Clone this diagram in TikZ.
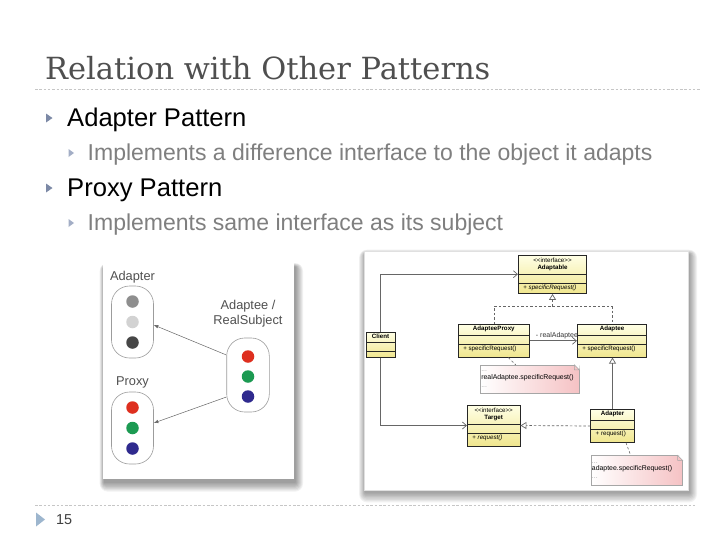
\documentclass[tikz,border=0pt]{standalone}
\usepackage{fontspec}
\setmainfont{Liberation Sans}
\newfontfamily\titlefont{DejaVu Serif}
\usepackage{xcolor}
\usepackage{tikz}
\usetikzlibrary{calc,arrows.meta,shapes.multipart,positioning}
\definecolor{bg}{HTML}{FFFFFF}
\definecolor{titletext}{HTML}{4F4F4F}
\definecolor{subtext}{HTML}{7F7F7F}
\definecolor{bullet}{HTML}{7C89A6}
\definecolor{bulletlight}{HTML}{A3AEC6}
\definecolor{footbullet}{HTML}{9DB6CE}
\definecolor{rulegray}{HTML}{C6C6C6}
\definecolor{pillgray}{HTML}{9C9C9C}
\definecolor{captext}{HTML}{505050}
\definecolor{dotred}{HTML}{DE2F1F}
\definecolor{dotgreen}{HTML}{1C9A52}
\definecolor{dotblue}{HTML}{2F2A8E}
\definecolor{dotmid}{HTML}{8E8E8E}
\definecolor{dotlight}{HTML}{D2D2D2}
\definecolor{dotdark}{HTML}{464646}
\definecolor{clstop}{HTML}{FFFFE6}
\definecolor{clsbot}{HTML}{F0E68E}
\definecolor{notepink}{HTML}{F5C2C4}
\definecolor{umlline}{HTML}{666666}
\tikzset{
  heading/.style={text=titletext, font=\titlefont\fontsize{30.5}{36}\selectfont, anchor=base west, inner sep=0pt},
  lvlone/.style={text=black, font=\fontsize{25.6}{30}\selectfont, anchor=base west, inner sep=0pt},
  lvltwo/.style={text=subtext, font=\fontsize{23}{28}\selectfont, anchor=base west, inner sep=0pt},
  dashrule/.style={draw=rulegray, line width=0.9pt, dash pattern=on 2.5pt off 1.8pt},
  pill/.style={draw=pillgray, line width=0.6pt, rounded corners=18pt, minimum width=42pt, fill=white, inner sep=0pt},
  dot/.style={circle, inner sep=0pt, minimum size=12.5pt},
  caplab/.style={text=captext, font=\fontsize{12.8}{15}\selectfont, align=center, inner sep=0pt},
  feed/.style={draw=black!60, line width=0.5pt, -{Latex[length=4.5pt,width=3.5pt]}},
  cls/.style={rectangle split, rectangle split parts=3, draw=black!85, line width=0.8pt,
    top color=clstop, bottom color=clsbot, font=\fontsize{6.2}{7.8}\selectfont,
    inner xsep=2pt, inner ysep=1.4pt, rectangle split part align={center,left,left}},
  note/.style={rectangle, draw=black!35, line width=0.5pt, left color=white, right color=notepink,
    font=\fontsize{6.9}{7.6}\selectfont, align=left, inner xsep=1pt, inner ysep=1pt},
  assoc/.style={draw=umlline, line width=0.7pt, -{Straight Barb[length=4pt,width=7pt]}},
  real/.style={draw=umlline, line width=0.7pt, dash pattern=on 2.5pt off 2pt, -{Triangle[open,length=6pt,width=7pt]}},
  gen/.style={draw=umlline, line width=0.7pt, -{Triangle[open,length=6pt,width=7pt]}},
  dashlink/.style={draw=umlline, line width=0.6pt, dash pattern=on 2.5pt off 2pt},
  lbl/.style={text=black!80, font=\fontsize{7}{8}\selectfont, inner sep=1pt},
}
\newcommand{\stereo}{{<}{<}interface{>}{>}}
\newcommand{\ifname}[1]{\rule{0pt}{6.5pt}\begin{tabular}{@{}c@{}}\stereo\\\textbf{#1}\end{tabular}\rule[-4pt]{0pt}{0pt}}
\newcommand{\clsname}[1]{\rule[-2.7pt]{0pt}{6.8pt}\textbf{#1}}
\newcommand{\opshort}[1]{\rule[-2.4pt]{0pt}{6pt}\hspace*{3pt}#1}
\newcommand{\optall}[1]{\rule[-5pt]{0pt}{8.2pt}\hspace*{3pt}#1}

\begin{document}
\begin{tikzpicture}[x=1pt, y=-1pt]
  \useasboundingbox (0,0) rectangle (728,546);
  \fill[bg] (0,0) rectangle (728,546);

  % slide text
  \node[heading] (title) at (45,79) {Relation with Other Patterns};
  \draw[dashrule] (35,89) -- (700,89);
  \draw[dashrule] (35,505) -- (695,505);
  \foreach \y in {118,188}
    \fill[bullet] (46,\y-4.5) -- (52.5,\y) -- (46,\y+4.5) -- cycle;
  \foreach \y in {153,223}
    \fill[bulletlight] (68.5,\y-4) -- (74,\y) -- (68.5,\y+4) -- cycle;
  \node[lvlone] (adapt) at (67,126.5) {Adapter Pattern};
  \node[lvltwo] (adaptsub) at (87.5,160) {Implements a difference interface to the object it adapts};
  \node[lvlone] (proxy) at (67,196.5) {Proxy Pattern};
  \node[lvltwo] (proxysub) at (87.5,230) {Implements same interface as its subject};
  \fill[footbullet] (36,512.5) -- (45,519.5) -- (36,526.5) -- cycle;
  \node[text=black!75, font=\fontsize{14.4}{16}\selectfont, anchor=west, inner sep=0pt] (page) at (56,519.5) {15};

  % photo frames
  \coordinate (lnw) at (102.5,263);
  \coordinate (lse) at (293.5,479);
  \coordinate (rnw) at (364.5,251.5);
  \coordinate (rse) at (688,490);
  \foreach \k in {1,...,8}
    \fill[black, opacity=0.055, rounded corners=\k pt] ($(lnw)+(2-0.6*\k,4-0.5*\k)$) rectangle ($(lse)+(1.5+\k,3+1.2*\k)$);
  \foreach \k in {1,...,8}
    \fill[black, opacity=0.05, rounded corners=\k pt] ($(rnw)+(1-0.8*\k,3-0.6*\k)$) rectangle ($(rse)+(1+\k,2+1.3*\k)$);
  \fill[white] (lnw) rectangle (lse);
  \fill[white, draw=black!12, line width=0.6pt] (rnw) rectangle (rse);

  % adapter / proxy sketch
  \node[pill, minimum height=72pt] (adcap) at (132.5,322) {};
  \node[pill, minimum height=72pt] (pxcap) at (132.5,428) {};
  \node[pill, minimum height=74pt, minimum width=42.6pt] (rscap) at (248,375) {};
  \foreach \c [count=\i] in {dotmid,dotlight,dotdark}
    \node[dot, fill=\c] (ad\i) at ($(adcap)+(0,{(\i-2)*20.5})$) {};
  \foreach \c [count=\i] in {dotred,dotgreen,dotblue}
    \node[dot, fill=\c] (px\i) at ($(pxcap)+(0,{(\i-2)*20.5})$) {};
  \foreach \c [count=\i] in {dotred,dotgreen,dotblue}
    \node[dot, fill=\c] (rs\i) at ($(rscap)+(0,{(\i-2)*20+1.5})$) {};
  \node[caplab, above=2pt of adcap] (adlab) {Adapter};
  \node[caplab, above=3pt of pxcap] (pxlab) {Proxy};
  \node[caplab, above=10pt of rscap] (rslab) {Adaptee /\\RealSubject};
  \draw[feed] ([yshift=20pt]rscap.west) -- ([yshift=-3pt]adcap.east);
  \draw[feed] ([yshift=-22pt]rscap.west) -- ([yshift=5pt]pxcap.east);

  % uml
  \node[cls, minimum width=68.4pt] (adaptable) at (552.5,274.2)
    {\ifname{Adaptable}\nodepart{two}\nodepart{three}\opshort{+ \textit{specificRequest()}}};
  \node[cls, minimum width=71pt] (proxycls) at (493.8,340.8)
    {\clsname{AdapteeProxy}\nodepart{two}\nodepart{three}\optall{+ specificRequest()}};
  \node[lbl, anchor=south west] (ralab) at ([xshift=5pt,yshift=0.5pt]proxycls.east) {- realAdaptee};
  \node[cls, minimum width=69.4pt] (adaptee) at (612,340.8)
    {\clsname{Adaptee}\nodepart{two}\nodepart{three}\optall{+ specificRequest()}};
  \node[cls, minimum width=29pt] (client) at (380.5,344.7)
    {\clsname{Client}\nodepart{two}\nodepart{three}\rule{0pt}{2pt}};
  \node[cls, minimum width=52.7pt] (target) at (493.7,425.5)
    {\ifname{Target}\nodepart{two}\nodepart{three}\optall{+ \textit{request()}}};
  \node[cls, minimum width=43.6pt] (adapter) at (612.5,426)
    {\clsname{Adapter}\nodepart{two}\nodepart{three}\optall{+ request()}};
  \node[note, text width=96.8pt, minimum height=28.3pt] (pnote) at (529.7,379.2)
    {\textcolor{black!35}{...}\\realAdaptee.specificRequest()\\\textcolor{black!35}{...}};
  \node[note, text width=89.5pt, minimum height=29.3pt] (anote) at (636.7,470.3)
    {\textcolor{black!35}{...}\\adaptee.specificRequest()\\\textcolor{black!35}{...}};
  \foreach \n in {pnote,anote} {
    \fill[white] ([xshift=-5pt]\n.north east) -- ([xshift=0.5pt,yshift=0.5pt]\n.north east) -- ([yshift=-5pt]\n.north east) -- cycle;
    \draw[black!35, line width=0.5pt] ([xshift=-5pt]\n.north east) -- ([yshift=-5pt]\n.north east)
      -- ([xshift=-5pt,yshift=-5pt]\n.north east) -- cycle;
  }
  \coordinate (joint) at (552.5,306.7);
  \draw[dashlink] (proxycls.north) |- (joint) -| (adaptee.north);
  \draw[real] (joint) -- (adaptable.south);
  \draw[assoc] (client.north) |- (adaptable.west);
  \draw[assoc] (client.south) |- (target.west);
  \draw[assoc] (proxycls.east) -- (adaptee.west);
  \draw[gen] (adapter.north) -- (adapter.north |- adaptee.south);
  \draw[real] (adapter.west) -- (target.east);
  \draw[dashlink] ([xshift=14.5pt]proxycls.south) -- ([xshift=-14pt]pnote.north);
  \draw[dashlink] ([xshift=13.5pt]adapter.south) -- ([xshift=-6pt]anote.north);
\end{tikzpicture}
\end{document}
